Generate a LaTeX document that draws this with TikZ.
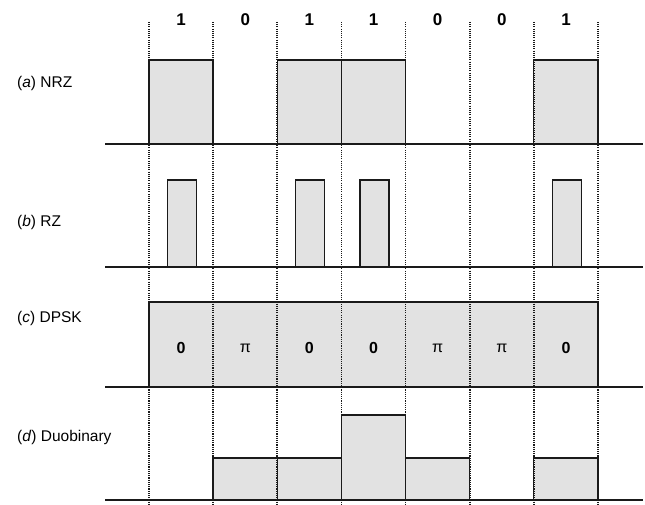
\documentclass[tikz,border=0pt]{standalone}
\usepackage{fontspec}
\setmainfont{Liberation Sans}
\usetikzlibrary{positioning,calc}
\definecolor{pulseGrey}{HTML}{E2E2E2}
\definecolor{inkBlack}{HTML}{1A1A1A}

\begin{document}
\begin{tikzpicture}[
    x=1pt, y=-1pt,
    font=\fontsize{15.5}{17}\selectfont,
    pulse/.style={draw=inkBlack, fill=pulseGrey, line width=1.3pt},
    axis/.style={draw=inkBlack, line width=1.4pt},
    slot/.style={draw=inkBlack, line width=1.7pt, dash pattern=on 1.1pt off 1.1pt},
    bit/.style={font=\fontsize{17}{19}\selectfont\bfseries, inner sep=0pt},
    phase/.style={font=\fontsize{16}{18}\selectfont\bfseries, inner sep=0pt},
    rowlabel/.style={anchor=west, inner sep=0pt}
  ]
    \useasboundingbox (0,0) rectangle (645,505);

    % bit slot boundaries
    \foreach \i in {0,...,7}
      \coordinate (s\i) at (149+64.14*\i,0);

    % (a) NRZ
    \foreach \i in {0,2,3,6}
      \draw[pulse] (149+64.14*\i,144) rectangle (149+64.14*\i+64.14,60);

    % (b) RZ
    \foreach \i in {0,2,3,6}
      \draw[pulse] (182+64.14*\i-14.5,267) rectangle (182+64.14*\i+14.5,180);

    % (c) DPSK
    \draw[pulse] (s0 |- 0,387) rectangle (s7 |- 0,302);

    % (d) Duobinary
    \foreach \i/\top in {1/458,2/458,3/415,4/458,6/458}
      \draw[pulse] (149+64.14*\i,500) rectangle (149+64.14*\i+64.14,\top);

    % dotted slot lines
    \foreach \i in {0,...,7}
      \draw[slot] (s\i |- 0,22) -- (s\i |- 0,505);

    % time axes
    \foreach \y in {144,267,387,500}
      \draw[axis] (105,\y) -- (643,\y);

    % bits
    \foreach \b [count=\k] in {1,0,1,1,0,0,1}
      \node[bit] (bit\k) at (117+64.14*\k,20) {\b};

    % DPSK phases
    \foreach \p [count=\k] in {0,\normalfont π,0,0,\normalfont π,\normalfont π,0}
      \node[phase] (ph\k) at (117+64.14*\k,348) {\p};

    % row labels
    \node[rowlabel] (lblNRZ) at (17,83) {(\textit{a}) NRZ};
    \node[rowlabel] (lblRZ) at (17,222) {(\textit{b}) RZ};
    \node[rowlabel] (lblDPSK) at (17,318) {(\textit{c}) DPSK};
    \node[rowlabel] (lblDuo) at (17,437) {(\textit{d}) Duobinary};
\end{tikzpicture}
\end{document}
